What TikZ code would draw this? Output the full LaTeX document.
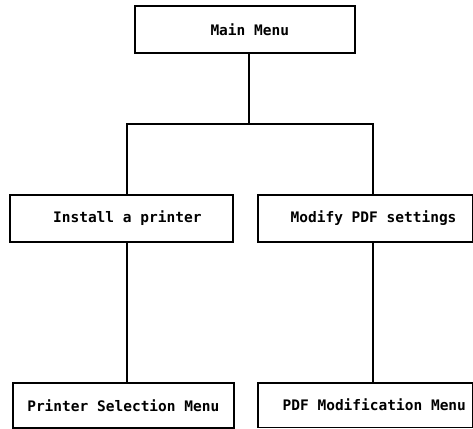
\documentclass[tikz,border=0pt]{standalone}
\usepackage{fontspec}
\setmonofont{DejaVu Sans Mono}
\begin{document}
\begin{tikzpicture}[x=1pt,y=-1pt,
  menubox/.style={draw=black, line width=1.6pt, inner sep=0pt, anchor=north west,
    font=\ttfamily\bfseries\fontsize{14.5}{17}\selectfont},
  link/.style={draw=black, line width=1.6pt}]
\useasboundingbox (0,0) rectangle (473,428);
\node[menubox, minimum width=220pt, minimum height=47pt] (main) at (134,5) {\hspace*{10pt}Main Menu};
\node[menubox, minimum width=223pt, minimum height=47pt] (inst) at (9,194) {\hspace*{12pt}Install a printer};
\node[menubox, minimum width=214.5pt, minimum height=47pt] (modi) at (257,194) {\hspace*{17pt}Modify PDF settings};
\node[menubox, minimum width=221pt, minimum height=45pt] (psel) at (12,382) {Printer Selection Menu};
\node[menubox, minimum width=215pt, minimum height=44.5pt] (pmod) at (257,382) {\hspace*{18pt}PDF Modification Menu};
\coordinate (jm) at (249,124);
\coordinate (jl) at (127,124);
\coordinate (jr) at (373,124);
\draw[link] (main.south -| jm) -- (jm);
\draw[link] (inst.north -| jl) -- (jl) -- (jr) -- (modi.north -| jr);
\draw[link] (inst.south -| jl) -- (psel.north -| jl);
\draw[link] (modi.south -| jr) -- (pmod.north -| jr);
\end{tikzpicture}
\end{document}
